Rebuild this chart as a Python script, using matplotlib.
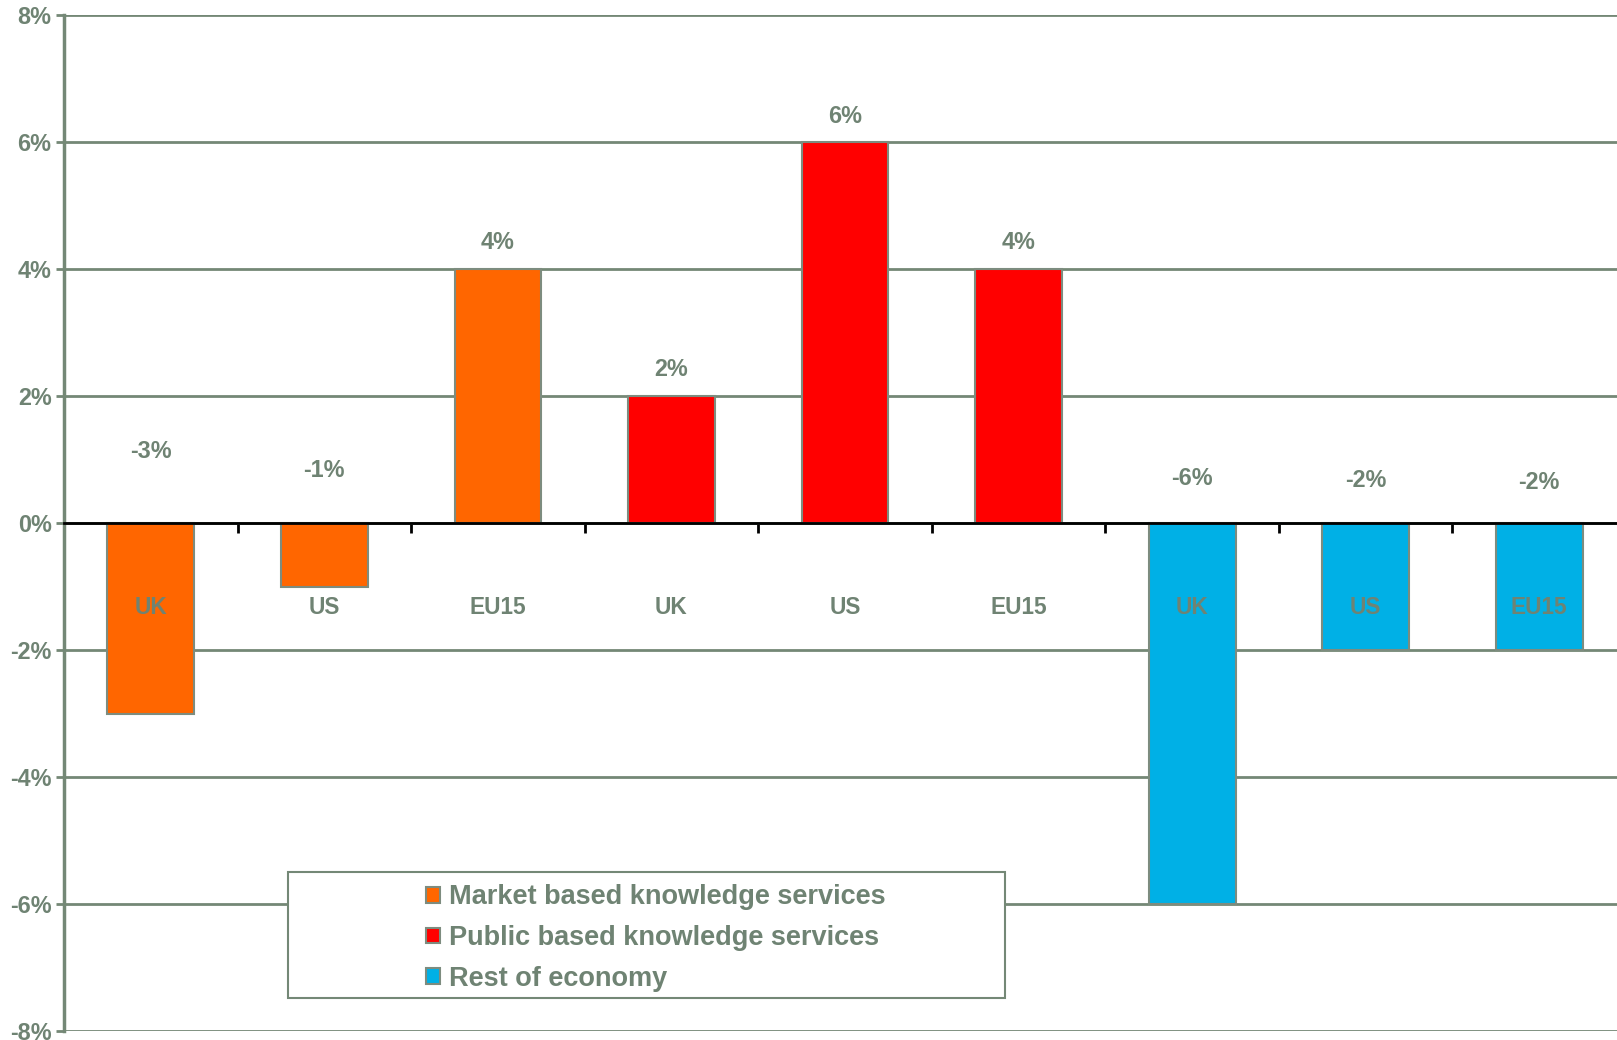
import numpy as np
import matplotlib.pyplot as plt
from matplotlib.patches import Rectangle

plt.rcParams['font.family'] = ['Liberation Sans', 'DejaVu Sans']
plt.rcParams['font.weight'] = 'bold'

# growth by sector and region
regions = ["UK", "US", "EU15", "UK", "US", "EU15", "UK", "US", "EU15"]
values = [-3, -1, 4, 2, 6, 4, -6, -2, -2]
sector = [0, 0, 0, 1, 1, 1, 2, 2, 2]
sector_names = ["Market based knowledge services",
                "Public based knowledge services",
                "Rest of economy"]
sector_colors = ["#ff6600", "#ff0000", "#00b0e6"]

# where the percentage labels sit (in % units)
label_y = [1.12, 0.83, 4.42, 2.41, 6.40, 4.42, 0.70, 0.67, 0.64]
region_label_y = -1.33

txt = "#6f8373"
grid_col = "#748876"

fig = plt.figure(figsize=(16.17, 10.40), dpi=100)
ax = fig.add_axes([64 / 1617, 9 / 1040, 1562 / 1617, 1016 / 1040])

x = np.arange(len(values))
ax.bar(x, values, width=0.5, color=[sector_colors[s] for s in sector],
       edgecolor="#7d8c7f", linewidth=1.5, zorder=2)

for i in x:
    ax.text(i, label_y[i], f"{values[i]}%", ha="center", va="center",
            color=txt, fontsize=16.8, fontweight="bold", zorder=4)
    ax.text(i, region_label_y, regions[i], ha="center", va="center",
            color=txt, fontsize=16.3, fontweight="bold", zorder=4)

ax.set_xlim(-0.5, len(values) - 0.5)
ax.set_ylim(-8, 8)
ax.set_yticks(np.arange(-8, 9, 2))
ax.set_yticklabels([f"{v}%" for v in range(-8, 9, 2)])
ax.tick_params(axis="y", colors=grid_col, labelcolor=txt, labelsize=16.8,
               length=6, width=2, pad=3)
ax.grid(axis="y", color=grid_col, linewidth=2)
ax.set_axisbelow(True)

# category axis sits on the zero line with ticks between groups
ax.set_xticks(np.arange(0.5, len(values) - 0.5, 1))
ax.set_xticklabels([])
ax.tick_params(axis="x", direction="out", length=7, width=2, color="black")
ax.spines["bottom"].set_position(("data", 0))
ax.spines["bottom"].set_color("black")
ax.spines["bottom"].set_linewidth(2)
ax.spines["bottom"].set_zorder(3)
ax.spines["left"].set_color(grid_col)
ax.spines["left"].set_linewidth(2.5)
ax.spines["top"].set_visible(False)
ax.spines["right"].set_visible(False)

# legend box
box = Rectangle((0.1434, 0.0325), 0.459, 0.124, transform=ax.transAxes,
                facecolor="white", edgecolor=grid_col, linewidth=1.5, zorder=5)
ax.add_patch(box)
handles = [Rectangle((0, 0), 1, 1, facecolor=c, edgecolor="#7d8c7f", linewidth=1.5)
           for c in sector_colors]
leg = ax.legend(handles, sector_names, loc="upper left",
                bbox_to_anchor=(0.2318, 0.1445), frameon=False,
                fontsize=19.5, handlelength=0.53, handleheight=0.53,
                handletextpad=0.3, labelspacing=0.55, borderaxespad=0,
                borderpad=0)
for t in leg.get_texts():
    t.set_color(txt)
leg.set_zorder(6)

fig.savefig("out.png", dpi=100)
